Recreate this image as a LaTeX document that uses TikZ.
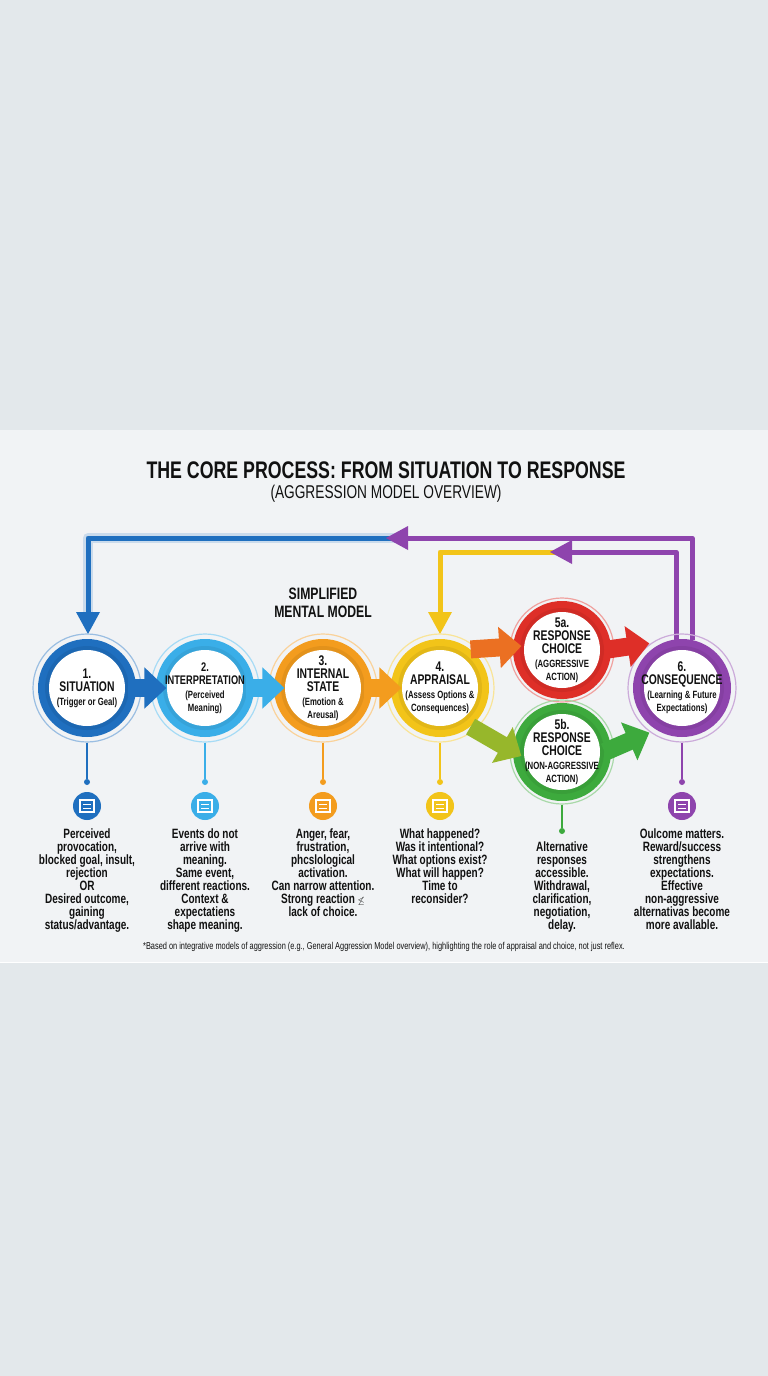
\documentclass[tikz,border=0pt]{standalone}
\usepackage{fontspec}
\setmainfont{Liberation Sans}[FakeStretch=0.74]
\usetikzlibrary{arrows.meta,shapes.geometric}
\definecolor{cblue}{HTML}{1F6FBF}
\definecolor{clblue}{HTML}{3AAEE8}
\definecolor{corange}{HTML}{F39C1E}
\definecolor{cyellow}{HTML}{F2C419}
\definecolor{cred}{HTML}{DE2F28}
\definecolor{cgreen}{HTML}{3DAA3D}
\definecolor{cpurple}{HTML}{8E44AD}
\definecolor{bg}{HTML}{E3E8EB}
\definecolor{panel}{HTML}{F1F3F5}
\definecolor{ink}{HTML}{111111}
\newcommand\mysub{\bfseries\fontsize{10.5}{10.5}\selectfont}
\tikzset{
 ring/.style={circle,draw=#1!45,line width=1.2pt,minimum size=108pt,inner sep=0pt,
   path picture={\fill[#1](path picture bounding box.center) circle (49pt);
   \fill[#1!75!black,opacity=.25](path picture bounding box.center) circle (42pt);
   \fill[white](path picture bounding box.center) circle (38pt);}},
 ctext/.style={align=center,text=ink,font=\bfseries\fontsize{14}{13}\selectfont},
 flow/.style={line width=18pt,draw=#1,-{Triangle[length=22pt,width=40pt]}},
 loop/.style={line width=5pt,draw=#1,line join=round},
 stem/.style={line width=1.4pt,draw=#1},
 dot/.style={circle,fill=#1,inner sep=0pt,minimum size=6pt},
 icon/.style={circle,fill=#1,minimum size=28pt,inner sep=0pt},
 body/.style={align=center,anchor=north,text=ink,font=\bfseries\fontsize{13.5}{13}\selectfont},
}
\begin{document}
\begin{tikzpicture}[x=1pt,y=-1pt]
\useasboundingbox (0,0) rectangle (768,1376);
\fill[bg] (0,0) rectangle (768,1376);
\fill[panel] (0,430) rectangle (768,962);
\draw[white,line width=1pt] (0,962) -- (768,962);
% title
\node[font=\bfseries\fontsize{24}{24}\selectfont,text=ink] (t1) at (386,470) {THE CORE PROCESS: FROM SITUATION TO RESPONSE};
\node[font=\fontsize{18.5}{19}\selectfont,text=ink] (t2) at (386,494) {(AGGRESSION MODEL OVERVIEW)};
\node[ctext,font=\bfseries\fontsize{16.5}{18}\selectfont] (mm) at (323,603) {SIMPLIFIED\\MENTAL MODEL};
% loops
\coordinate (L1a) at (88,538); \coordinate (L1m) at (400,538); \coordinate (L1b) at (692,538);
\coordinate (L2a) at (440,552); \coordinate (L2m) at (560,552); \coordinate (L2b) at (676,552);
\draw[loop=cblue!40,line width=10pt,opacity=.5] (88,625) -- (L1a) -- (L1m);
\draw[loop=cblue] (L1m) -- (L1a) -- (88,615);
\draw[loop=cpurple] (692,640) -- (L1b) -- (L1m);
\draw[loop=cyellow] (L2m) -- (L2a) -- (440,615);
\draw[loop=cpurple] (676,640) -- (L2b) -- (L2m);
\fill[cpurple] (386,538) -- (408,526) -- (408,550) -- cycle;
\fill[cpurple] (550,552) -- (572,540) -- (572,564) -- cycle;
\fill[cblue] (88,634) -- (76,612) -- (100,612) -- cycle;
\fill[cyellow] (440,634) -- (428,612) -- (452,612) -- cycle;
% circles
\node[ring=cblue] (c1) at (87,688) {};
\node[ring=clblue] (c2) at (205,688) {};
\node[ring=corange] (c3) at (323,688) {};
\node[ring=cyellow] (c4) at (440,688) {};
\node[ring=cred,minimum size=104pt] (c5a) at (562,650) {};
\node[ring=cgreen,minimum size=104pt] (c5b) at (562,752) {};
\node[ring=cpurple] (c6) at (682,688) {};
% flow arrows
\draw[flow=cblue] ([xshift=-14pt]c1.east) -- ([xshift=16pt]c2.west);
\draw[flow=clblue] ([xshift=-14pt]c2.east) -- ([xshift=16pt]c3.west);
\draw[flow=corange] ([xshift=-14pt]c3.east) -- ([xshift=16pt]c4.west);
\draw[flow=corange!60!cred] ([xshift=-8pt]c4.north east) -- ([xshift=12pt,yshift=4pt]c5a.west);
\draw[flow=cyellow!50!cgreen] ([xshift=-8pt]c4.south east) -- ([xshift=12pt,yshift=-4pt]c5b.west);
\draw[flow=cred] ([xshift=-10pt]c5a.east) -- ([xshift=6pt,yshift=6pt]c6.north west);
\draw[flow=cgreen] ([xshift=-10pt]c5b.east) -- ([xshift=6pt,yshift=-6pt]c6.south west);
% circle texts
\node[ctext] (x1) at (c1) {1.\\SITUATION\\[1pt]{\mysub (Trigger or Geal)}};
\node[ctext,font=\bfseries\fontsize{12.5}{13}\selectfont] (x2) at (c2) {2.\\INTERPRETATION\\[1pt]{\mysub (Perceived}\\{\mysub Meaning)}};
\node[ctext] (x3) at (c3) {3.\\INTERNAL\\STATE\\[1pt]{\mysub (Emotion \&}\\{\mysub Areusal)}};
\node[ctext] (x4) at (c4) {4.\\APPRAISAL\\[1pt]{\mysub (Assess Options \&}\\{\mysub Consequences)}};
\node[ctext] (x5a) at (c5a) {5a.\\RESPONSE\\CHOICE\\[1pt]{\mysub (AGGRESSIVE}\\{\mysub ACTION)}};
\node[ctext] (x5b) at (c5b) {5b.\\RESPONSE\\CHOICE\\[1pt]{\mysub (NON-AGGRESSIVE}\\{\mysub ACTION)}};
\node[ctext] (x6) at (c6) {6.\\CONSEQUENCE\\[1pt]{\mysub (Learning \& Future}\\{\mysub Expectations)}};
% stems and icons
\foreach \c/\x/\col in {1/87/cblue,2/205/clblue,3/323/corange,4/440/cyellow,6/682/cpurple}{
  \node[dot=\col] (d\c) at (\x,782) {};
  \node[icon=\col] (i\c) at (\x,806) {};
  \draw[stem=\col] (c\c.south) -- (d\c);
  \draw[white,line width=1.3pt] ([xshift=-7pt,yshift=-6pt]i\c.center) rectangle ([xshift=7pt,yshift=6pt]i\c.center);
  \draw[white,line width=1pt] ([xshift=-4pt,yshift=-2pt]i\c.center) -- ([xshift=4pt,yshift=-2pt]i\c.center)
     ([xshift=-4pt,yshift=2pt]i\c.center) -- ([xshift=4pt,yshift=2pt]i\c.center);
}
\node[dot=cgreen] (d5) at (562,831) {};
\draw[stem=cgreen] (c5b.south) -- (d5);
% texts
\node[body] (b1) at (87,825) {Perceived\\provocation,\\blocked goal, insult,\\rejection\\OR\\Desired outcome,\\gaining\\status/advantage.};
\node[body] (b2) at (205,825) {Events do not\\arrive with\\meaning.\\Same event,\\different reactions.\\Context \&\\expectatiens\\shape meaning.};
\node[body] (b3) at (323,825) {Anger, fear,\\frustration,\\phcslological\\activation.\\Can narrow attention.\\Strong reaction \smash{$\scriptstyle\not\leq$}\\lack of choice.};
\node[body] (b4) at (440,825) {What happened?\\Was it intentional?\\What options exist?\\What will happen?\\Time to\\reconsider?};
\node[body] (b5) at (562,838) {Alternative\\responses\\accessible.\\Withdrawal,\\clarification,\\negotiation,\\delay.};
\node[body] (b6) at (682,825) {Oulcome matters.\\Reward/success\\strengthens\\expectations.\\Effective\\non-aggressive\\alternativas become\\more avallable.};
\node[text=ink,font=\fontsize{10}{10}\selectfont] (fn) at (384,947) {*Based on integrative models of aggression (e.g., General Aggression Model overview), highlighting the role of appraisal and choice, not just reflex.};
\end{tikzpicture}
\end{document}
